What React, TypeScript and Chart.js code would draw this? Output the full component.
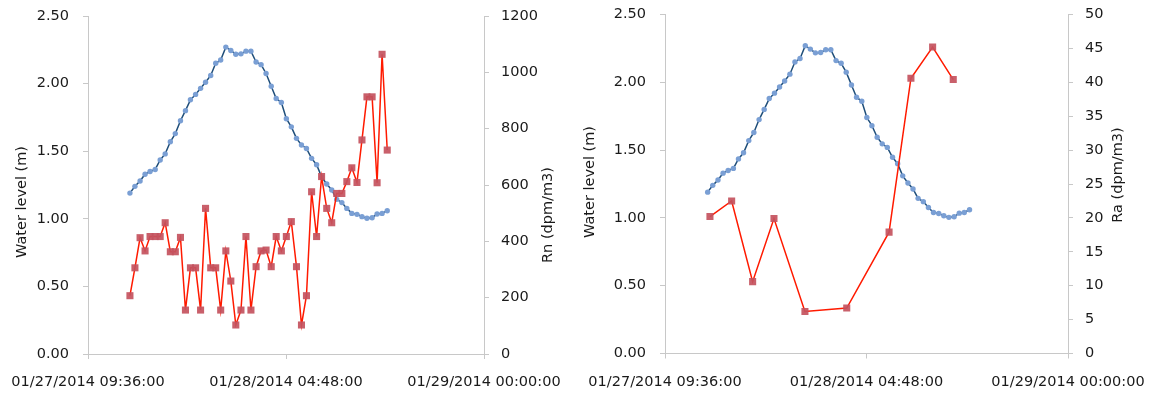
import React, { useEffect, useRef } from 'react';
import { Chart, registerables } from 'chart.js';

Chart.register(...registerables);

// ---- data ----
const xTickMinutes = [0, 1152, 2304];
const xTickLabels = ['01/27/2014 09:36:00', '01/28/2014 04:48:00', '01/29/2014 00:00:00'];

// sample times (minutes after 01/27/2014 09:36:00)
const sampleMinutes = [
  244, 273, 303, 332, 361, 391, 420, 449, 479, 508, 538, 567, 596, 626, 655, 684, 714,
  743, 772, 802, 831, 860, 890, 919, 948, 978, 1007, 1036, 1066, 1095, 1125, 1154, 1183,
  1213, 1242, 1271, 1301, 1330, 1359, 1389, 1418, 1447, 1477, 1506, 1535, 1565, 1594,
  1623, 1653, 1682, 1711, 1741,
];

const waterLevel = [
  1.19, 1.24, 1.28, 1.33, 1.35, 1.365, 1.435, 1.48, 1.57, 1.63, 1.725, 1.8, 1.88, 1.92,
  1.965, 2.01, 2.06, 2.15, 2.175, 2.27, 2.245, 2.217, 2.22, 2.24, 2.24, 2.16, 2.14, 2.075,
  1.98, 1.89, 1.86, 1.74, 1.68, 1.595, 1.546, 1.52, 1.447, 1.4, 1.31, 1.257, 1.213, 1.144,
  1.12, 1.077, 1.04, 1.033, 1.016, 1.004, 1.008, 1.035, 1.04, 1.06,
];

const rnValues = [
  207, 306, 413, 366, 417, 417, 417, 466, 363, 363, 414, 156, 306, 306, 156, 517, 306, 306,
  156, 366, 259, 103, 156, 417, 156, 310, 366, 369, 310, 417, 366, 417, 470, 310, 103, 207,
  576, 417, 630, 517, 466, 570, 570, 612, 661, 609, 760, 913, 913, 608, 1064, 724,
];

const raMinutes = [257, 381, 501, 623, 800, 1039, 1281, 1406, 1530, 1648];
const raValues = [20.2, 22.5, 10.6, 19.9, 6.2, 6.7, 17.9, 40.6, 45.2, 40.4];

const waterTicks = [0, 0.5, 1, 1.5, 2, 2.5];
const rnTicks = [0, 200, 400, 600, 800, 1000, 1200];
const raTicks = [0, 5, 10, 15, 20, 25, 30, 35, 40, 45, 50];

// ---- styles ----
const FONT = 'DejaVu Sans';
const TEXT = '#1a1a1a';
const AXIS = '#c8c8c8';
const BLUE_LINE = '#1f4e79';
const BLUE_PT = '#7a9fd4';
const RED_LINE = '#ff1a00';
const RED_PT = 'rgba(196,82,94,0.92)';

const W = 576;
const H = 395;

type TitleItem = { text: string; x: number; y: number };

const axisTitlePlugin = {
  id: 'axisTitles',
  afterDraw(chart: any, _args: any, opts: any) {
    const ctx = chart.ctx;
    (opts.items || []).forEach((t: TitleItem) => {
      ctx.save();
      ctx.translate(t.x, t.y);
      ctx.rotate(-Math.PI / 2);
      ctx.textAlign = 'center';
      ctx.textBaseline = 'middle';
      ctx.fillStyle = TEXT;
      ctx.font = `14.5px "${FONT}"`;
      ctx.fillText(t.text, 0, 0);
      ctx.restore();
    });
  },
};

function pts(xs: number[], ys: number[]) {
  return xs.map((x, i) => ({ x, y: ys[i] }));
}

type PanelCfg = {
  rightLabel: string;
  rightData: { x: number; y: number }[];
  rightTicks: number[];
  leftW: number;
  rightW: number;
  top: number;
  xH: number;
  titles: TitleItem[];
};

function buildConfig(p: PanelCfg): any {
  const tickFont = { family: FONT, size: 14.5 };
  const grid = {
    display: true,
    drawOnChartArea: false,
    drawTicks: true,
    tickLength: 5,
    color: AXIS,
    lineWidth: 1,
  };
  const border = { display: true, color: AXIS, width: 1 };
  const rightMax = p.rightTicks[p.rightTicks.length - 1];
  return {
    type: 'line',
    data: {
      datasets: [
        {
          label: p.rightLabel,
          data: p.rightData,
          yAxisID: 'y1',
          borderColor: RED_LINE,
          borderWidth: 1.5,
          pointStyle: 'rect',
          pointRadius: 5,
          pointBackgroundColor: RED_PT,
          pointBorderColor: RED_PT,
          pointBorderWidth: 0,
          tension: 0,
          order: 0,
        },
        {
          label: 'Water level (m)',
          data: pts(sampleMinutes, waterLevel),
          yAxisID: 'y',
          borderColor: BLUE_LINE,
          borderWidth: 1.5,
          pointStyle: 'circle',
          pointRadius: 2.7,
          pointBackgroundColor: BLUE_PT,
          pointBorderColor: BLUE_PT,
          pointBorderWidth: 0,
          tension: 0,
          order: 1,
        },
      ],
    },
    options: {
      responsive: false,
      animation: false,
      events: [],
      layout: { padding: { top: p.top, left: 0, right: 0, bottom: 0 } },
      plugins: {
        legend: { display: false },
        tooltip: { enabled: false },
        axisTitles: { items: p.titles },
      },
      scales: {
        x: {
          type: 'linear',
          min: 0,
          max: 2304,
          afterBuildTicks: (s: any) => {
            s.ticks = xTickMinutes.map((v) => ({ value: v }));
          },
          afterFit: (s: any) => {
            s.height = p.xH;
            s.paddingLeft = 0;
            s.paddingRight = 0;
          },
          ticks: {
            callback: (v: any) => {
              const i = xTickMinutes.indexOf(Number(v));
              return i >= 0 ? xTickLabels[i] : '';
            },
            maxRotation: 0,
            minRotation: 0,
            autoSkip: false,
            padding: 15,
            font: tickFont,
            color: TEXT,
          },
          grid,
          border,
        },
        y: {
          type: 'linear',
          position: 'left',
          min: 0,
          max: 2.5,
          afterBuildTicks: (s: any) => {
            s.ticks = waterTicks.map((v) => ({ value: v }));
          },
          afterFit: (s: any) => {
            s.width = p.leftW;
            s.paddingTop = 0;
            s.paddingBottom = 0;
          },
          ticks: {
            callback: (v: any) => Number(v).toFixed(2),
            padding: 14,
            font: tickFont,
            color: TEXT,
          },
          grid,
          border,
        },
        y1: {
          type: 'linear',
          position: 'right',
          min: 0,
          max: rightMax,
          afterBuildTicks: (s: any) => {
            s.ticks = p.rightTicks.map((v) => ({ value: v }));
          },
          afterFit: (s: any) => {
            s.width = p.rightW;
            s.paddingTop = 0;
            s.paddingBottom = 0;
          },
          ticks: {
            callback: (v: any) => String(v),
            padding: 12,
            font: tickFont,
            color: TEXT,
          },
          grid,
          border,
        },
      },
    },
    plugins: [axisTitlePlugin],
  };
}

function Panel({ cfg }: { cfg: PanelCfg }) {
  const ref = useRef<HTMLCanvasElement | null>(null);
  useEffect(() => {
    if (!ref.current) return;
    const chart = new Chart(ref.current, buildConfig(cfg));
    return () => chart.destroy();
  }, []);
  return <canvas ref={ref} width={W} height={H} style={{ display: 'block', width: W, height: H }} />;
}

const leftPanel: PanelCfg = {
  rightLabel: 'Rn (dpm/m3)',
  rightData: pts(sampleMinutes, rnValues),
  rightTicks: rnTicks,
  leftW: 88,
  rightW: 92,
  top: 16,
  xH: 41,
  titles: [
    { text: 'Water level (m)', x: 22, y: 202 },
    { text: 'Rn (dpm/m3)', x: 548, y: 215 },
  ],
};

const rightPanel: PanelCfg = {
  rightLabel: 'Ra (dpm/m3)',
  rightData: pts(raMinutes, raValues),
  rightTicks: raTicks,
  leftW: 89,
  rightW: 84,
  top: 14.5,
  xH: 41.5,
  titles: [
    { text: 'Water level (m)', x: 14, y: 182 },
    { text: 'Ra (dpm/m3)', x: 542, y: 175 },
  ],
};

export default function App() {
  return (
    <div
      style={{
        position: 'absolute',
        left: 0,
        top: 0,
        width: 1152,
        height: 395,
        background: '#ffffff',
        display: 'flex',
        flexDirection: 'row',
      }}
    >
      <Panel cfg={leftPanel} />
      <Panel cfg={rightPanel} />
    </div>
  );
}
